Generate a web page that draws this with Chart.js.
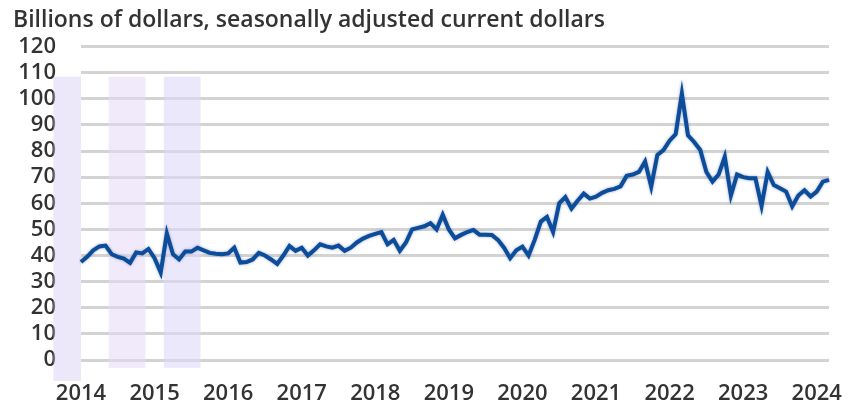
<!DOCTYPE html>
<html>
<head>
<meta charset="utf-8">
<script src="https://cdn.jsdelivr.net/npm/chart.js@4"></script>
<style>
  html, body { margin: 0; padding: 0; background: #fff; }
  #wrap { width: 850px; height: 403px; }
</style>
</head>
<body>
<div id="wrap"><canvas id="chart" width="850" height="403"></canvas></div>
<script>
// monthly values, Jan 2014 .. Mar 2024 (billions of dollars)
const startYear = 2014;
const values = [
  37.5, 39.5, 42.0, 43.5, 43.8, 40.5, 39.5, 38.8, 37.2, 41.2, 40.8, 42.5,   // 2014
  39.0, 33.5, 48.5, 40.5, 38.5, 41.5, 41.5, 43.0, 42.0, 41.0, 40.7, 40.5,   // 2015
  40.8, 43.0, 37.3, 37.5, 38.5, 41.0, 40.0, 38.5, 36.8, 40.0, 43.7, 41.8,   // 2016
  43.0, 40.0, 42.0, 44.3, 43.5, 43.0, 43.8, 41.8, 43.0, 45.0, 46.5, 47.5,   // 2017
  48.3, 49.0, 44.3, 46.0, 41.8, 45.0, 50.0, 50.6, 51.2, 52.4, 50.0, 55.6,   // 2018
  50.0, 46.6, 47.9, 49.0, 49.8, 48.0, 48.0, 47.9, 46.0, 43.0, 39.0, 42.0,   // 2019
  43.4, 40.0, 46.0, 53.0, 54.8, 49.0, 60.0, 62.4, 58.0, 61.0, 63.7, 61.8,   // 2020
  62.5, 64.0, 65.0, 65.5, 66.5, 70.5, 71.0, 72.0, 76.0, 66.4, 78.5, 80.4,   // 2021
  84.0, 86.5, 102.0, 86.0, 83.5, 80.4, 72.0, 68.3, 71.0, 77.8, 63.0, 71.0,  // 2022
  70.0, 69.6, 69.6, 59.0, 72.0, 67.0, 65.8, 64.5, 58.8, 63.0, 65.0, 62.6,   // 2023
  64.5, 68.3, 69.0                                                           // 2024
];
const months = values.map((v, i) => {
  const y = startYear + Math.floor(i / 12);
  const m = String(i % 12 + 1).padStart(2, '0');
  return y + '-' + m;
});
const yTicks = [0, 10, 20, 30, 40, 50, 60, 70, 80, 90, 100, 110, 120];
// pale shaded bands seen behind the plot, in month index units
const bandStart = [-4.5, 4.5, 13.5];
const bandEnd = [0, 10.5, 19.5];
const bandColor = ['rgba(212,202,242,0.45)', 'rgba(228,216,245,0.55)', 'rgba(224,216,250,0.6)'];

const bandsPlugin = {
  id: 'bands',
  beforeDatasetsDraw(chart) {
    const { ctx, scales: { x, y } } = chart;
    ctx.save();
    for (let i = 0; i < bandStart.length; i++) {
      const x0 = x.getPixelForValue(bandStart[i]);
      const x1 = x.getPixelForValue(bandEnd[i]);
      const top = y.getPixelForValue(108.5);
      const bottom = y.getPixelForValue(i === 0 ? -8 : -3);
      ctx.fillStyle = bandColor[i];
      ctx.fillRect(x0, top, x1 - x0, bottom - top);
    }
    ctx.restore();
  }
};

const glowPlugin = {
  id: 'glow',
  beforeDatasetDraw(chart) {
    const ctx = chart.ctx;
    ctx.save();
    ctx.shadowColor = 'rgba(110,130,170,0.7)';
    ctx.shadowBlur = 3;
  },
  afterDatasetDraw(chart) {
    chart.ctx.restore();
  }
};

const font = "'Open Sans', 'Liberation Sans', sans-serif";
const textColor = '#333333';

new Chart(document.getElementById('chart'), {
  type: 'line',
  data: {
    labels: months,
    datasets: [{
      data: values,
      borderColor: '#0b4c9b',
      borderWidth: 4,
      pointRadius: 0,
      tension: 0,
      fill: false
    }]
  },
  options: {
    responsive: false,
    animation: false,
    layout: { padding: { left: 13, right: 21, top: 3, bottom: 0 } },
    plugins: {
      legend: { display: false },
      tooltip: { enabled: false },
      title: {
        display: true,
        text: 'Billions of dollars, seasonally adjusted current dollars',
        align: 'start',
        color: textColor,
        font: { family: font, size: 23, weight: '600' },
        padding: { top: 4, bottom: 12 }
      }
    },
    scales: {
      x: {
        afterFit: axis => {
          axis.height = 43;
          axis.paddingLeft = 0;
          axis.paddingRight = 0;
        },
        grid: { display: false, drawTicks: false },
        border: { display: false },
        ticks: {
          autoSkip: false,
          maxRotation: 0,
          padding: 21,
          color: textColor,
          font: { family: font, size: 22, weight: '600' },
          callback: function (val, i) {
            const lab = months[i];
            return lab.endsWith('-01') ? lab.slice(0, 4) : null;
          }
        }
      },
      y: {
        min: 0,
        max: 120,
        afterBuildTicks: axis => { axis.ticks = yTicks.map(v => ({ value: v })); },
        afterFit: axis => { axis.width = 68; },
        grid: { color: '#d3d3d3', lineWidth: 3, drawTicks: false },
        border: { display: false },
        ticks: {
          autoSkip: false,
          padding: 25,
          color: textColor,
          font: { family: font, size: 22, weight: '600' }
        }
      }
    }
  },
  plugins: [bandsPlugin, glowPlugin]
});
</script>
</body>
</html>
